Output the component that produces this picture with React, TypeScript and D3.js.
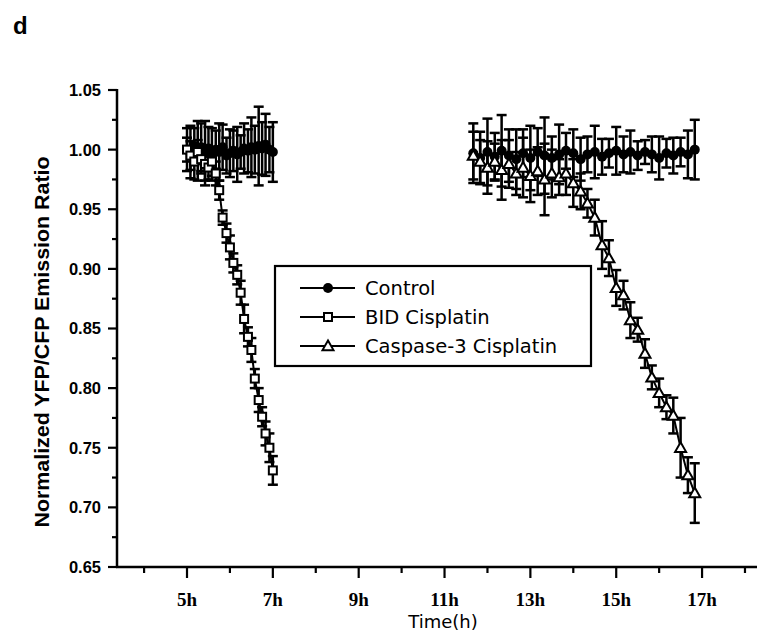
import React from "react";
import * as d3 from "d3";

const leftTimes = [5.0, 5.08, 5.17, 5.25, 5.33, 5.42, 5.5, 5.58, 5.67, 5.75, 5.83, 5.92, 6.0, 6.08, 6.17, 6.25, 6.33, 6.42, 6.5, 6.58, 6.67, 6.75, 6.83, 6.92, 7.0];
const rightTimes = [11.67, 11.83, 12.0, 12.17, 12.33, 12.5, 12.67, 12.83, 13.0, 13.17, 13.33, 13.5, 13.67, 13.83, 14.0, 14.17, 14.33, 14.5, 14.67, 14.83, 15.0, 15.17, 15.33, 15.5, 15.67, 15.83, 16.0, 16.17, 16.33, 16.5, 16.67, 16.83];

const controlLeft = [1.0, 0.998, 1.003, 0.999, 1.002, 0.997, 1.001, 0.996, 1.0, 0.998, 1.002, 0.995, 0.997, 0.999, 0.996, 0.998, 1.001, 0.999, 1.002, 1.0, 1.003, 1.001, 1.004, 1.0, 0.998];
const controlLeftErr = [0.018, 0.022, 0.015, 0.025, 0.02, 0.027, 0.018, 0.022, 0.016, 0.024, 0.019, 0.015, 0.02, 0.017, 0.023, 0.014, 0.021, 0.018, 0.025, 0.02, 0.033, 0.022, 0.026, 0.019, 0.025];

const bidLeft = [1.0, 0.995, 0.99, 0.998, 0.992, 0.988, 0.985, 0.99, 0.98, 0.966, 0.943, 0.93, 0.918, 0.905, 0.895, 0.88, 0.858, 0.843, 0.832, 0.808, 0.79, 0.776, 0.762, 0.75, 0.731];
const bidLeftErr = [0.01, 0.012, 0.015, 0.01, 0.012, 0.014, 0.01, 0.012, 0.01, 0.008, 0.006, 0.008, 0.01, 0.008, 0.008, 0.01, 0.012, 0.008, 0.01, 0.008, 0.01, 0.008, 0.01, 0.012, 0.012];

const controlRight = [0.997, 0.993, 0.998, 0.994, 0.999, 0.995, 0.992, 0.997, 0.993, 0.998, 0.995, 0.993, 0.996, 0.999, 0.997, 0.992, 0.996, 0.998, 0.994, 0.997, 0.999, 0.996, 0.998, 0.995, 0.998, 0.996, 0.993, 0.997, 0.995, 0.998, 0.996, 1.0];
const controlRightErr = [0.025, 0.022, 0.028, 0.02, 0.03, 0.022, 0.025, 0.02, 0.027, 0.02, 0.032, 0.018, 0.025, 0.015, 0.02, 0.018, 0.015, 0.022, 0.015, 0.012, 0.02, 0.015, 0.018, 0.012, 0.01, 0.015, 0.018, 0.012, 0.015, 0.012, 0.02, 0.025];

const caspRight = [0.995, 0.99, 0.985, 0.99, 0.983, 0.988, 0.98, 0.985, 0.978, 0.982, 0.975, 0.98, 0.977, 0.98, 0.972, 0.965, 0.955, 0.943, 0.92, 0.909, 0.884, 0.878, 0.857, 0.849, 0.829, 0.809, 0.796, 0.784, 0.777, 0.75, 0.727, 0.712];
const caspRightErr = [0.02, 0.018, 0.022, 0.015, 0.025, 0.02, 0.018, 0.025, 0.022, 0.02, 0.03, 0.02, 0.015, 0.018, 0.02, 0.015, 0.012, 0.015, 0.02, 0.015, 0.015, 0.012, 0.015, 0.01, 0.012, 0.01, 0.012, 0.01, 0.015, 0.025, 0.015, 0.025];

const yTicks = [0.65, 0.7, 0.75, 0.8, 0.85, 0.9, 0.95, 1.0, 1.05];
const yMinor = [0.675, 0.725, 0.775, 0.825, 0.875, 0.925, 0.975, 1.025];
const xTicks = [5, 7, 9, 11, 13, 15, 17];
const xMinor = [4, 6, 8, 10, 12, 14, 16, 18];
const legendLabels = ["Control", "BID Cisplatin", "Caspase-3 Cisplatin"];

const x = d3.scaleLinear().domain([3.369, 18.28]).range([117, 757]);
const y = d3.scaleLinear().domain([0.65, 1.05]).range([567, 90]);

type Pt = { t: number; v: number; e: number };
const zip = (ts: number[], vs: number[], es: number[]): Pt[] => ts.map((t, i) => ({ t, v: vs[i], e: es[i] }));

const ctrlL = zip(leftTimes, controlLeft, controlLeftErr);
const ctrlR = zip(rightTimes, controlRight, controlRightErr);
const bidL = zip(leftTimes, bidLeft, bidLeftErr);
const caspR = zip(rightTimes, caspRight, caspRightErr);

const line = d3.line<Pt>().x((d) => x(d.t)).y((d) => y(d.v));

function ErrorBars({ data }: { data: Pt[] }) {
  return (
    <g stroke="#000" strokeWidth={2.5}>
      {data.map((d, i) => {
        const cx = x(d.t);
        const y1 = y(d.v + d.e);
        const y2 = y(d.v - d.e);
        return (
          <g key={i}>
            <line x1={cx} x2={cx} y1={y1} y2={y2} />
            <line x1={cx - 5} x2={cx + 5} y1={y1} y2={y1} />
            <line x1={cx - 5} x2={cx + 5} y1={y2} y2={y2} />
          </g>
        );
      })}
    </g>
  );
}

function Marker({ kind, cx, cy }: { kind: number; cx: number; cy: number }) {
  if (kind === 0) return <circle cx={cx} cy={cy} r={5} fill="#000" />;
  if (kind === 1)
    return <rect x={cx - 4} y={cy - 4} width={8} height={8} fill="#fff" stroke="#000" strokeWidth={2} />;
  const s = 5.5;
  return (
    <path
      d={`M${cx},${cy - s} L${cx + s},${cy + s * 0.75} L${cx - s},${cy + s * 0.75} Z`}
      fill="#fff"
      stroke="#000"
      strokeWidth={2}
    />
  );
}

export default function App() {
  return (
    <div style={{ position: "absolute", left: 0, top: 0 }}>
      <svg width={767} height={643} style={{ display: "block", background: "#fff" }}>
        <text x={13} y={34} fontFamily="Liberation Sans, Arial, sans-serif" fontWeight="bold" fontSize={24}>
          d
        </text>

        {/* axes */}
        <g stroke="#000" strokeWidth={2.5}>
          <line x1={117} x2={117} y1={y(1.05) - 1} y2={568} />
          <line x1={116} x2={757} y1={567} y2={567} />
        </g>
        <g stroke="#000" strokeWidth={2.2}>
          {yTicks.map((t) => (
            <line key={t} x1={108} x2={117} y1={y(t)} y2={y(t)} />
          ))}
          {yMinor.map((t) => (
            <line key={t} x1={112} x2={117} y1={y(t)} y2={y(t)} />
          ))}
          {xTicks.map((t) => (
            <line key={t} x1={x(t)} x2={x(t)} y1={567} y2={578} />
          ))}
          {xMinor.map((t) => (
            <line key={t} x1={x(t)} x2={x(t)} y1={567} y2={573} />
          ))}
        </g>
        <g fontFamily="Liberation Sans, Arial, sans-serif" fontWeight="bold" fontSize={16.5} textAnchor="end">
          {yTicks.map((t) => (
            <text key={t} x={101} y={y(t)} dy="0.36em">
              {d3.format(".2f")(t)}
            </text>
          ))}
        </g>
        <g fontFamily="Liberation Serif, Times New Roman, serif" fontWeight="bold" fontSize={19} textAnchor="middle">
          {xTicks.map((t) => (
            <text key={t} x={x(t)} y={606}>
              {`${t}h`}
            </text>
          ))}
        </g>
        <text x={443} y={628} textAnchor="middle" fontFamily="DejaVu Sans, sans-serif" fontSize={18}>
          Time(h)
        </text>
        <text
          transform="translate(49,342) rotate(-90)"
          textAnchor="middle"
          fontFamily="Liberation Sans, Arial, sans-serif"
          fontWeight="bold"
          fontSize={21}
          textLength={371}
          lengthAdjust="spacingAndGlyphs"
        >
          Normalized YFP/CFP Emission Ratio
        </text>

        {/* data */}
        <ErrorBars data={ctrlL} />
        <ErrorBars data={ctrlR} />
        <ErrorBars data={bidL} />
        <ErrorBars data={caspR} />
        <g fill="none" stroke="#000" strokeWidth={2}>
          <path d={line(ctrlL) || ""} />
          <path d={line(ctrlR) || ""} />
          <path d={line(bidL) || ""} />
          <path d={line(caspR) || ""} />
        </g>
        {ctrlL.map((d, i) => (
          <Marker key={"cl" + i} kind={0} cx={x(d.t)} cy={y(d.v)} />
        ))}
        {ctrlR.map((d, i) => (
          <Marker key={"cr" + i} kind={0} cx={x(d.t)} cy={y(d.v)} />
        ))}
        {bidL.map((d, i) => (
          <Marker key={"b" + i} kind={1} cx={x(d.t)} cy={y(d.v)} />
        ))}
        {caspR.map((d, i) => (
          <Marker key={"c" + i} kind={2} cx={x(d.t)} cy={y(d.v)} />
        ))}

        {/* legend */}
        <rect x={275} y={266} width={316} height={100} fill="#fff" stroke="#000" strokeWidth={2.2} />
        {legendLabels.map((lab, i) => {
          const ly = 288 + i * 29;
          return (
            <g key={lab}>
              <line x1={300} x2={355} y1={ly} y2={ly} stroke="#000" strokeWidth={2.2} />
              <Marker kind={i} cx={328} cy={ly} />
              <text x={365} y={ly} dy="0.36em" fontFamily="DejaVu Sans, sans-serif" fontSize={19.5}>
                {lab}
              </text>
            </g>
          );
        })}
      </svg>
    </div>
  );
}
